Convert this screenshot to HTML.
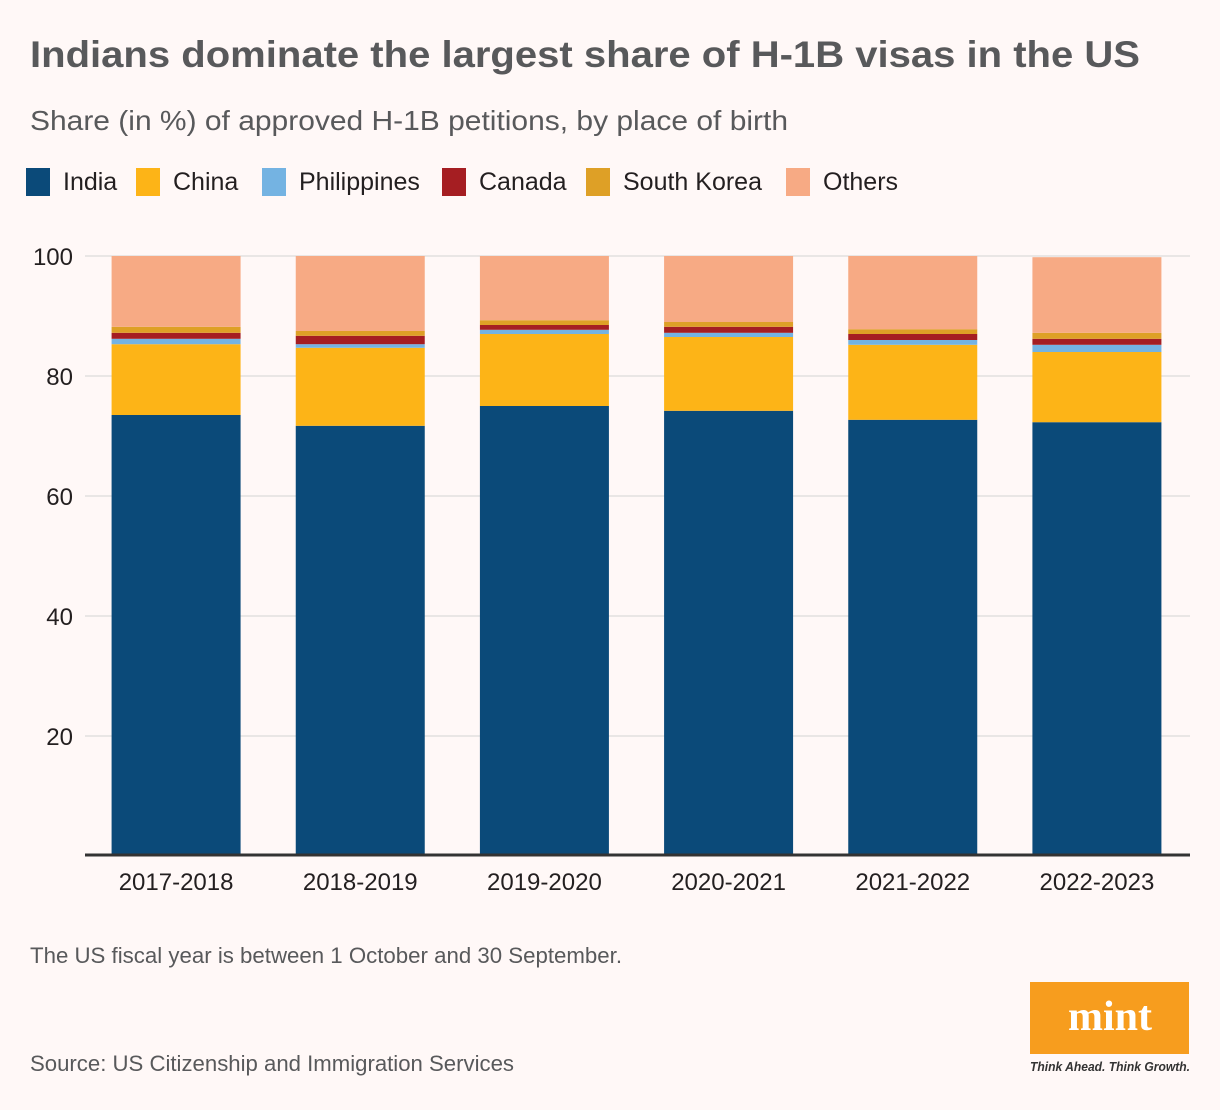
<!DOCTYPE html>
<html><head><meta charset="utf-8"><style>
html,body{margin:0;padding:0;background:#fff8f7;}
svg{display:block;font-family:"Liberation Sans",sans-serif;}
</style></head><body>
<svg id="chart" width="1220" height="1110" viewBox="0 0 1220 1110" xmlns="http://www.w3.org/2000/svg">
<rect width="1220" height="1110" fill="#fff8f7"/>
<text x="30" y="67" font-size="37" font-weight="bold" fill="#58595b" textLength="1110" lengthAdjust="spacingAndGlyphs">Indians dominate the largest share of H-1B visas in the US</text>
<text x="30" y="130" font-size="28" fill="#58595b" textLength="758" lengthAdjust="spacingAndGlyphs">Share (in %) of approved H-1B petitions, by place of birth</text>
<g id="legend"></g>
<g id="grid"></g>
<g id="bars"></g>
<g id="xlabels"></g>
<text x="30" y="963" font-size="22" fill="#58595b" textLength="592" lengthAdjust="spacingAndGlyphs">The US fiscal year is between 1 October and 30 September.</text>
<text x="30" y="1071" font-size="22" fill="#58595b" textLength="484" lengthAdjust="spacingAndGlyphs">Source: US Citizenship and Immigration Services</text>
<g>
<rect x="1030" y="982" width="159" height="72" fill="#f79d1e"/>
<text x="1110" y="1030" font-size="42" font-weight="bold" font-family="Liberation Serif,serif" fill="#fff" text-anchor="middle">mint</text>
<text x="1110" y="1071" font-size="13" font-weight="bold" font-style="italic" fill="#333" text-anchor="middle" textLength="160" lengthAdjust="spacingAndGlyphs">Think Ahead. Think Growth.</text>
</g>
</svg>
<script>
const categories = ["2017-2018","2018-2019","2019-2020","2020-2021","2021-2022","2022-2023"];
const seriesNames = ["India","China","Philippines","Canada","South Korea","Others"];
const india = [73.5,71.7,75.0,74.2,72.7,72.3];
const china = [11.8,13.0,12.0,12.3,12.5,11.7];
const philippines = [0.9,0.6,0.7,0.7,0.8,1.2];
const canada = [1.0,1.4,0.8,1.0,1.0,1.0];
const southKorea = [1.0,0.8,0.8,0.8,0.8,1.0];
const others = [11.8,12.5,10.7,11.0,12.2,12.6];
const yTicks = [20,40,60,80,100];

const colors = ["#0b4a79","#fdb417","#74b3e2","#a51e22","#dea026","#f7aa84"];
const series = [india,china,philippines,canada,southKorea,others];
const NS = "http://www.w3.org/2000/svg";
const plotL = 85, plotR = 1190, y0 = 856, yTop = 256;
const yScale = v => y0 - (v/100)*(y0-yTop);
const step = (plotR-plotL)/categories.length;
const barW = 129;
const xCenter = i => plotL + step*(i+0.5) - 1;
function mk(tag, attrs, parent){const e=document.createElementNS(NS,tag);for(const k in attrs)e.setAttribute(k,attrs[k]);parent.appendChild(e);return e;}

const legend = document.getElementById('legend');
const legX = [26,136,262,442,586,786];
seriesNames.forEach((n,i)=>{
  const r = mk('rect',{x:legX[i],y:168,width:24,height:28,fill:colors[i]},legend);
  
  
  const t = mk('text',{x:legX[i]+37,y:190,'font-size':25,fill:'#231f20'},legend);
  t.textContent = n;
  
  
});

const grid = document.getElementById('grid');
yTicks.forEach(v=>{
  const y = yScale(v);
  const l = mk('line',{x1:plotL,x2:plotR,y1:y,y2:y,stroke:'#e2e0df','stroke-width':1.5},grid);
  
  
  const t = mk('text',{x:73,y:y+9,'font-size':24,fill:'#231f20','text-anchor':'end'},grid);
  t.textContent = v;
  
  
});

const bars = document.getElementById('bars');
categories.forEach((c,i)=>{
  let cum = 0;
  series.forEach((s,j)=>{
    const yA = yScale(cum), yB = yScale(cum+s[i]);
    const r = mk('rect',{x:xCenter(i)-barW/2,y:yB,width:barW,height:yA-yB,fill:colors[j]},bars);
    
    
    cum += s[i];
  });
  const t = mk('text',{x:xCenter(i),y:890,'font-size':24,fill:'#231f20','text-anchor':'middle'},document.getElementById('xlabels'));
  t.textContent = c;
  
  
});
const ax = mk('line',{x1:plotL,x2:plotR,y1:855,y2:855,stroke:'#333','stroke-width':3},bars);


</script>
</body></html>
